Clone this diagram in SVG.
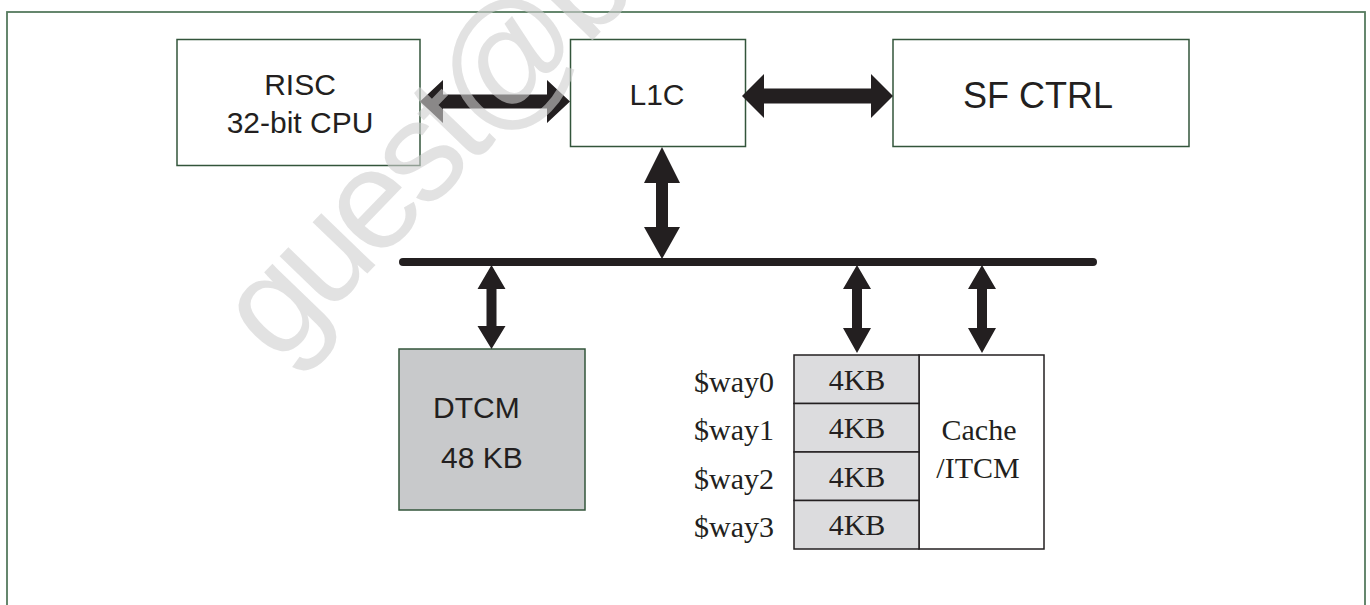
<svg xmlns="http://www.w3.org/2000/svg" width="1370" height="605" viewBox="0 0 1370 605">
<style>
.box{fill:#ffffff;stroke:#33553b;stroke-width:1.5}
.sans{font-family:"Liberation Sans",Arial,sans-serif;fill:#231f20}
.serif{font-family:"Liberation Serif","Times New Roman",serif;fill:#231f20;font-size:30px}
.arrow{fill:#231f20}
.cell{fill:#dcdcde;stroke:#231f20;stroke-width:1.5}
</style>
<rect x="0" y="0" width="1370" height="605" fill="#ffffff"/>
<rect id="frame" x="7" y="12" width="1358" height="640" fill="none" stroke="#557a5e" stroke-width="1.8"/>

<g id="risc">
<rect class="box" x="177" y="39.5" width="243" height="126"/>
<text class="sans" x="300" y="95" font-size="30" text-anchor="middle">RISC</text>
<text class="sans" x="300" y="133" font-size="30" text-anchor="middle">32-bit CPU</text>
</g>
<g id="l1c">
<rect class="box" x="570.5" y="39.5" width="175" height="107"/>
<text class="sans" x="657" y="105" font-size="30" text-anchor="middle">L1C</text>
</g>
<g id="sfctrl">
<rect class="box" x="893" y="39.5" width="296" height="107"/>
<text class="sans" x="1038" y="108" font-size="36" text-anchor="middle">SF CTRL</text>
</g>
<g id="dtcm">
<rect x="399" y="349" width="186" height="161" fill="#c8c9cb" stroke="#33553b" stroke-width="1.5"/>
<text class="sans" x="433" y="418" font-size="30">DTCM</text>
<text class="sans" x="441" y="468" font-size="30">48 KB</text>
</g>
<g id="cache">
<rect x="919" y="355" width="125" height="194" fill="#ffffff" stroke="#231f20" stroke-width="1.5"/>
<rect class="cell" x="794" y="355" width="125" height="48.5"/>
<rect class="cell" x="794" y="403.5" width="125" height="48.5"/>
<rect class="cell" x="794" y="452" width="125" height="48.5"/>
<rect class="cell" x="794" y="500.5" width="125" height="48.5"/>
<text class="serif" x="857" y="390" text-anchor="middle">4KB</text>
<text class="serif" x="857" y="438" text-anchor="middle">4KB</text>
<text class="serif" x="857" y="487" text-anchor="middle">4KB</text>
<text class="serif" x="857" y="535" text-anchor="middle">4KB</text>
<text class="serif" x="979" y="440" text-anchor="middle">Cache</text>
<text class="serif" x="978" y="478" text-anchor="middle">/ITCM</text>
</g>
<g id="way-labels">
<text class="serif" x="774" y="392" text-anchor="end">$way0</text>
<text class="serif" x="774" y="440" text-anchor="end">$way1</text>
<text class="serif" x="774" y="489" text-anchor="end">$way2</text>
<text class="serif" x="774" y="537" text-anchor="end">$way3</text>
</g>

<g id="connectors">
<line x1="403" y1="262" x2="1093" y2="262" stroke="#231f20" stroke-width="8" stroke-linecap="round"/>
<polygon class="arrow" points="420,101.5 443,80 443,94.5 547,94.5 547,80 570,101.5 547,123 547,108.5 443,108.5 443,123"/>
<polygon class="arrow" points="742,96 764,74 764,88.5 871,88.5 871,74 893,96 871,118 871,103.5 764,103.5 764,118"/>
<polygon class="arrow" points="662,147 680,183 668,183 668,227 680,227 662,259 644,227 656,227 656,183 644,183"/>
<polygon class="arrow" points="491.5,265 505.5,289 496.5,289 496.5,326 505.5,326 491.5,349 477.5,326 486.5,326 486.5,289 477.5,289"/>
<polygon class="arrow" points="857,265 871,289 862,289 862,328 871,328 857,353 843,328 852,328 852,289 843,289"/>
<polygon class="arrow" points="982,265 996,289 987,289 987,328 996,328 982,353 968,328 977,328 977,289 968,289"/>
</g>

<text id="watermark" transform="translate(278,366) rotate(-46)" font-family="'Liberation Sans',Arial,sans-serif" font-size="142" letter-spacing="-8" fill="#cfcfcf" fill-opacity="0.6">guest@b</text>
</svg>
